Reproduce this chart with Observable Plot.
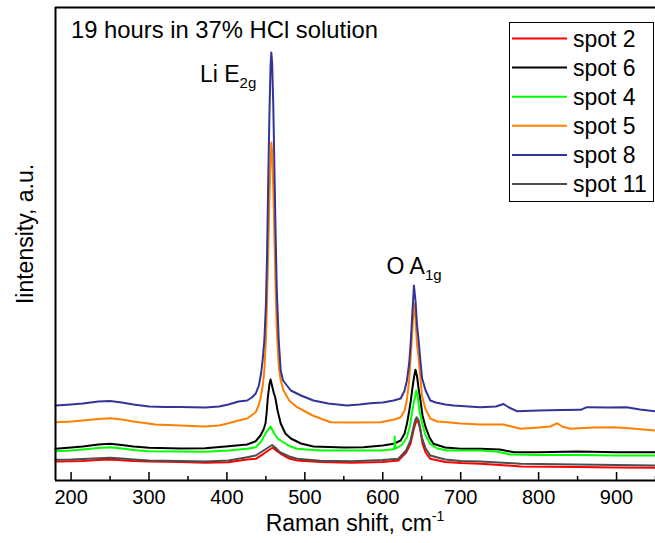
<!DOCTYPE html>
<html><head><meta charset="utf-8">
<script src="https://cdn.jsdelivr.net/npm/d3@7"></script>
<script src="https://cdn.jsdelivr.net/npm/@observablehq/plot@0.6"></script>
<style>body{margin:0;background:#fff} svg{display:block}</style>
</head><body><div id="chart"></div>
<script>
const seriesNames = ["spot 2", "spot 6", "spot 4", "spot 5", "spot 8", "spot 11"];
const seriesColors = ["#ff0000", "#000000", "#00ff00", "#ff8000", "#333399", "#4d4d4d"];
const majorTicks = [200, 300, 400, 500, 600, 700, 800, 900];
const minorTicks = [250, 350, 450, 550, 650, 750, 850, 950];
const titleText = "19 hours in 37% HCl solution";
const xLabel = "Raman shift, cm";
const yLabel = "Iintensity, a.u.";

// [Raman shift (cm-1), intensity (a.u.)]
const spot2 = [[180,19],[200,19.2],[215,19.5],[235,20.5],[250,21],[265,20.3],[280,19.5],[300,19],[340,18.5],[372,17.7],[402,18.3],[426,21],[437,21.7],[447,26.7],[453,30],[459,33],[463,30],[469,26.7],[480,22],[490,20],[520,18.5],[560,17.7],[600,18.5],[620,20],[630,28],[635.6,36.7],[640,52],[643,59],[645,60],[648,52],[651,36.7],[655,28],[661,21.7],[680,18.5],[700,17.5],[725,16.7],[760,15],[777,14],[850,13.5],[900,13],[950,12.7]];
const spot6 = [[180,31.7],[200,33],[215,34],[235,36],[250,36.7],[265,35.5],[280,34],[300,32.7],[340,32],[372,32.3],[402,34.3],[426,36],[437,39.3],[443,45],[447,51],[449.5,57],[451,68],[452.5,83],[454.5,96],[456,101],[457.5,96],[460,88],[462,83],[465,70],[469,57],[475,47],[482,42],[495,37],[511,34],[550,33],[575,33.3],[600,35],[614,36.7],[623,40],[628,47],[631,56.7],[634,70],[636,80],[638,92],[640,103],[642,110.7],[644,104],[646,92],[648.4,80],[651,65],[655,53.3],[660,43],[665,36.7],[680,33],[700,31.7],[725,31.7],[750,31],[768,28.3],[800,28.3],[850,29],[900,28.3],[950,28.3]];
const spot4 = [[180,29.3],[200,30],[215,31],[235,32.5],[250,33.3],[265,32],[280,30.5],[300,29.3],[340,29],[372,28.7],[402,30],[426,31.7],[437,33.3],[444,39],[447,43.3],[452,50],[454,52],[456,54],[458,51],[460,48],[465,42],[469,40],[480,34.5],[490,31.7],[520,30],[560,30],[597,30],[610,31],[614.8,31.5],[615.3,44],[615.8,32],[620,33.5],[625,36],[631,43.3],[635,55],[638,70],[640,79],[641.5,84],[643,90],[645,83],[647,70],[650.6,56.7],[655,45],[661,36.7],[670,32],[683,30],[700,30],[725,30],[745,29],[764,26],[800,25.5],[850,25.5],[900,25],[950,25]];
const spot5 = [[180,58.3],[200,59],[215,60],[235,61.5],[250,62.3],[265,61],[280,59],[308,56],[340,55],[372,54],[390,55],[402,57.3],[415,60],[426,62],[437,68.3],[441,76],[443,82],[446,95],[448,110],[450,140],[451.5,180],[453,230],[454.5,280],[456,322],[457,338],[458,328],[459.5,292],[461,242],[462.5,192],[464,150],[466.5,115],[469,100],[472.6,90],[480,80],[490,73.3],[510,65],[533,58.3],[560,58],[597,58.3],[615,61],[623,63.3],[628,70],[631,81],[634,101],[636,125],[638,151],[640,177],[642,161],[644,136],[646,122],[648,105],[650.5,84],[655,71],[661,62],[670,59],[683,58.3],[700,57],[725,56],[755,56],[777,51.7],[800,53],[815,54],[824,57.3],[830,54],[841,51.7],[870,53],[896,53.3],[920,52],[950,50]];
const spot8 = [[180,75],[200,76],[215,77],[235,79],[250,79.5],[265,78],[280,76],[300,74],[320,73.5],[340,73.5],[372,73],[390,74],[402,76],[415,79],[426,80],[432,83],[437,87],[441,95],[444,108],[446,122],[448,140],[450,175],[451.5,225],[453,300],[454.5,365],[456,415],[457,428],[458,418],[459.5,375],[461,310],[462.5,245],[464,190],[466.5,140],[469,110],[472,100],[477,95],[482,90],[495,85],[511,80],[530,77],[554,75],[570,76],[584,77.3],[600,78],[614,80],[623,82],[628,90],[631,100],[634,118],[636,140],[638,168],[640,195],[642,180],[644,155],[646,140],[648,122],[650.5,102],[655,90],[661,80],[668,78],[680,76],[691,75],[710,74],[725,73.3],[745,74],[755,76.5],[762,73],[772,69.3],[800,70],[830,70.5],[854,70.7],[862,73.3],[890,73],[913,73.3],[930,71],[950,69.3]];
const spot11 = [[180,20.7],[200,21],[215,21.5],[235,22.3],[250,22.7],[265,22],[280,21],[300,20],[340,19.5],[372,19],[402,20],[426,23.3],[437,25],[447,30],[452,32.5],[455,34],[458,35.5],[462,33],[468,28.3],[480,24],[490,21.7],[520,19.7],[560,19.3],[600,20.5],[620,21.7],[630,30],[635.6,40],[639,52],[641.5,60],[643.5,63.3],[646,60],[648,52],[650,43.3],[655,32],[661,25],[680,21],[700,19.5],[725,19],[760,17.5],[777,16.7],[850,16],[900,15.5],[950,15]];

const seriesData = [spot2, spot6, spot4, spot5, spot8, spot11];
const rows = seriesData.flatMap((arr, i) => arr.map(([x, y]) => ({series: seriesNames[i], x, y})));

const FONT = "Liberation Sans, Arial, Helvetica, sans-serif";

const plot = Plot.plot({
  width: 655, height: 543,
  marginLeft: 55, marginRight: 0, marginTop: 7, marginBottom: 63,
  style: {fontFamily: FONT, background: "white", color: "black"},
  x: {domain: [180, 950]},
  y: {domain: [0, 473], axis: null},
  color: {domain: seriesNames, range: seriesColors},
  marks: [
    Plot.line(rows, {x: "x", y: "y", z: "series", stroke: "series", strokeWidth: 2}),
    Plot.ruleX(majorTicks, {x: d => d, y1: 0, y2: 8, stroke: "black", strokeWidth: 1.5}),
    Plot.ruleX(minorTicks, {x: d => d, y1: 0, y2: 4, stroke: "black", strokeWidth: 1.5}),
    Plot.axisX({ticks: majorTicks, tickSize: 0, tickPadding: 9, fontSize: 20, label: null, tickFormat: d => String(d)}),
    Plot.ruleY([0], {stroke: "black", strokeWidth: 2}),
    Plot.ruleY([473], {stroke: "black", strokeWidth: 2}),
    Plot.ruleX([180], {stroke: "black", strokeWidth: 2})
  ]
});

const svg = d3.select(plot);
const sx = plot.scale("x"), sy = plot.scale("y");
const g = svg.append("g").attr("font-family", FONT).attr("fill", "black").attr("text-anchor", "start");

// title inside the plot
g.append("text").attr("x", 71).attr("y", 38).attr("font-size", 23.8).attr("text-anchor", "start").text(titleText);

// peak labels
const li = g.append("text").attr("x", sx.apply(366)).attr("y", sy.apply(398)).attr("font-size", 23).attr("text-anchor", "start");
li.append("tspan").text("Li E");
li.append("tspan").attr("font-size", 15).attr("dy", 6).text("2g");
const ox = g.append("text").attr("x", sx.apply(605.5)).attr("y", sy.apply(206.5)).attr("font-size", 23).attr("text-anchor", "start");
ox.append("tspan").text("O A");
ox.append("tspan").attr("font-size", 15).attr("dy", 6).text("1g");

// axis titles
const xl = g.append("text").attr("x", 355).attr("y", 531).attr("text-anchor", "middle").attr("font-size", 23);
xl.append("tspan").text(xLabel);
xl.append("tspan").attr("font-size", 14).attr("dy", -10).text("-1");
g.append("text").attr("transform", "translate(33,234) rotate(-90)").attr("text-anchor", "middle").attr("font-size", 23).text(yLabel);

// legend
const lg = g.append("g");
lg.append("rect").attr("x", 509.5).attr("y", 22.5).attr("width", 144).attr("height", 179).attr("fill", "white").attr("stroke", "black").attr("stroke-width", 1);
seriesNames.forEach((name, i) => {
  const yy = 38.5 + i * 29.1;
  lg.append("line").attr("x1", 512).attr("x2", 567).attr("y1", yy).attr("y2", yy).attr("stroke", seriesColors[i]).attr("stroke-width", 2);
  lg.append("text").attr("x", 573).attr("y", yy + 8).attr("font-size", 23).attr("text-anchor", "start").text(name);
});

document.getElementById("chart").appendChild(plot);
</script>
</body></html>
